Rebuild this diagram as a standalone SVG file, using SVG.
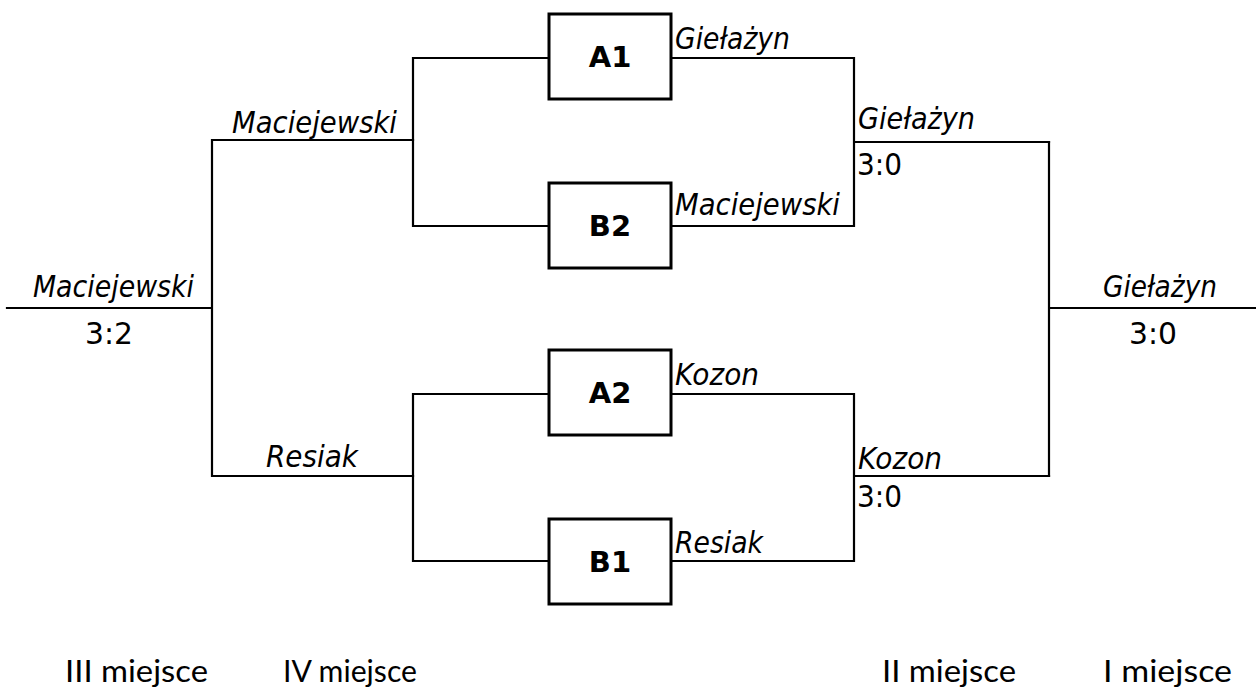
<svg xmlns="http://www.w3.org/2000/svg" width="1256" height="688" viewBox="0 0 1256 688">
<style>
.ln{stroke:#000;stroke-width:2.2;fill:none;stroke-linecap:square}
.box{fill:#fff;stroke:#000;stroke-width:3}
.nm{font-family:"DejaVu Sans",sans-serif;font-style:italic;font-size:30px;fill:#000}
.sc{font-family:"DejaVu Sans",sans-serif;font-size:30px;fill:#000}
.bl{font-family:"DejaVu Sans",sans-serif;font-weight:bold;font-size:29px;fill:#000;text-anchor:middle}
.pl{font-family:"Lato","Noto Sans",sans-serif;font-size:30px;fill:#000}
</style>
<rect width="1256" height="688" fill="#fff"/>
<g id="connectors">
<path class="ln" d="M7 308H212M212 140V476M212 140H413M212 476H413"/>
<path class="ln" d="M413 58V226M413 58H549M413 226H549"/>
<path class="ln" d="M413 394V561M413 394H549M413 561H549"/>
<path class="ln" d="M671 58H854V226H671M854 142H1049"/>
<path class="ln" d="M671 394H854V561H671M854 476H1049"/>
<path class="ln" d="M1049 142V476M1049 308H1256"/>
</g>
<g id="A1"><rect class="box" x="549" y="14" width="122" height="85"/><text class="bl" x="610" y="67">A1</text></g>
<g id="B2"><rect class="box" x="549" y="183" width="122" height="85"/><text class="bl" x="610" y="236">B2</text></g>
<g id="A2"><rect class="box" x="549" y="350" width="122" height="85"/><text class="bl" x="610" y="403">A2</text></g>
<g id="B1"><rect class="box" x="549" y="519" width="122" height="85"/><text class="bl" x="610" y="572">B1</text></g>
<g id="labels">
<text class="nm" x="675" y="49" textLength="115" lengthAdjust="spacingAndGlyphs">Giełażyn</text>
<text class="nm" x="675" y="215" textLength="165" lengthAdjust="spacingAndGlyphs">Maciejewski</text>
<text class="nm" x="675" y="385" textLength="84" lengthAdjust="spacingAndGlyphs">Kozon</text>
<text class="nm" x="675" y="553" textLength="88" lengthAdjust="spacingAndGlyphs">Resiak</text>
<text class="nm" x="858" y="129" textLength="117" lengthAdjust="spacingAndGlyphs">Giełażyn</text>
<text class="sc" x="857" y="175" textLength="45" lengthAdjust="spacingAndGlyphs">3:0</text>
<text class="nm" x="858" y="469" textLength="84" lengthAdjust="spacingAndGlyphs">Kozon</text>
<text class="sc" x="857" y="507" textLength="45" lengthAdjust="spacingAndGlyphs">3:0</text>
<text class="nm" x="232" y="133" textLength="165" lengthAdjust="spacingAndGlyphs">Maciejewski</text>
<text class="nm" x="266" y="467" textLength="92" lengthAdjust="spacingAndGlyphs">Resiak</text>
<text class="nm" x="33" y="297" textLength="161" lengthAdjust="spacingAndGlyphs">Maciejewski</text>
<text class="sc" x="85" y="344" textLength="48" lengthAdjust="spacingAndGlyphs">3:2</text>
<text class="nm" x="1103" y="297" textLength="114" lengthAdjust="spacingAndGlyphs">Giełażyn</text>
<text class="sc" x="1129" y="344" textLength="48" lengthAdjust="spacingAndGlyphs">3:0</text>
<text class="pl" x="65" y="682" textLength="143" lengthAdjust="spacingAndGlyphs">III miejsce</text>
<text class="pl" x="283" y="682" textLength="134" lengthAdjust="spacingAndGlyphs">IV miejsce</text>
<text class="pl" x="882" y="682" textLength="134" lengthAdjust="spacingAndGlyphs">II miejsce</text>
<text class="pl" x="1103" y="682" textLength="129" lengthAdjust="spacingAndGlyphs">I miejsce</text>
</g>
</svg>
